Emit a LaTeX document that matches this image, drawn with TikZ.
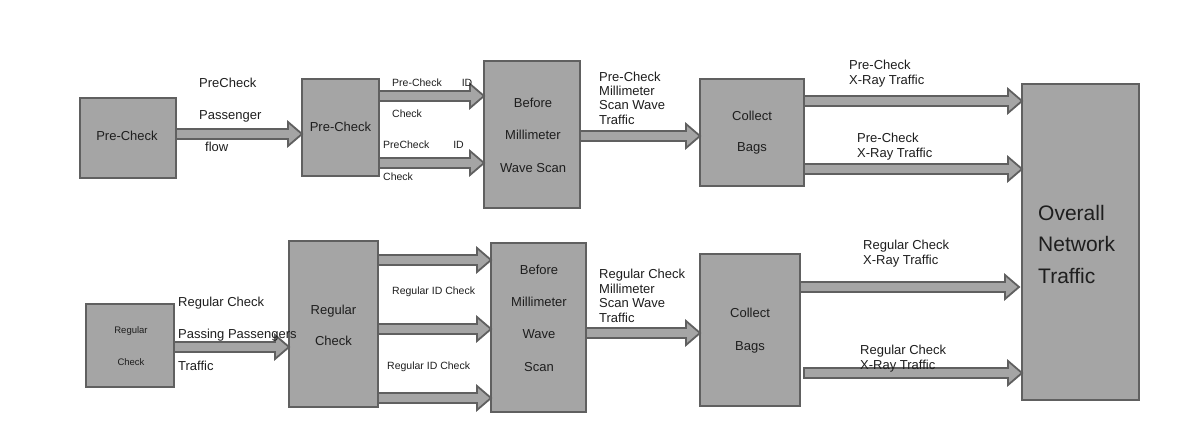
\documentclass[tikz,border=0pt]{standalone}
\usepackage{fontspec}
\setmainfont{Liberation Sans}
\usetikzlibrary{calc}
\definecolor{boxfill}{HTML}{A5A5A5}
\definecolor{boxline}{HTML}{606060}
\definecolor{ink}{HTML}{1E1E1E}
\tikzset{
  box/.style={draw=boxline, fill=boxfill, line width=2pt, inner sep=0pt, outer sep=0pt},
  barrow/.style={draw=boxline, fill=boxfill, line width=1.8pt, line join=miter},
  txt/.style={inner sep=0pt, text=ink, align=center},
  lbl/.style={inner sep=0pt, text=ink, align=left, anchor=west},
}
\newcommand\blockarrow[3][]{\draw[barrow,#1] let \p1=#2, \p2=#3 in
  (\x1,\y1+5pt) -- (\x2-14pt,\y1+5pt) -- (\x2-14pt,\y1+12pt) -- (\x2,\y1) --
  (\x2-14pt,\y1-12pt) -- (\x2-14pt,\y1-5pt) -- (\x1,\y1-5pt) -- cycle;}
\begin{document}
\begin{tikzpicture}[x=1pt,y=-1pt]
\fill[white] (0,0) rectangle (1195,443);
\useasboundingbox (0,0) rectangle (1195,443);

% boxes
\node[box, minimum width=96, minimum height=80] (pc1) at (128,138) {};
\node[box, minimum width=77, minimum height=97] (pc2) at (340.5,127.5) {};
\node[box, minimum width=96, minimum height=147] (bm1) at (532,134.5) {};
\node[box, minimum width=104, minimum height=107] (cb1) at (752,132.5) {};
\node[box, minimum width=117, minimum height=316] (ov) at (1080.5,242) {};
\node[box, minimum width=88, minimum height=83] (rc1) at (130,345.5) {};
\node[box, minimum width=89, minimum height=166] (rc2) at (333.5,324) {};
\node[box, minimum width=95, minimum height=169] (bm2) at (538.5,327.5) {};
\node[box, minimum width=100, minimum height=152] (cb2) at (750,330) {};

% box texts
\node[txt, font=\fontsize{13}{15}\selectfont] (pc1t) at (127,136) {Pre-Check};
\node[txt, font=\fontsize{13}{15}\selectfont] (pc2t) at (340.5,127) {Pre-Check};
\node[txt, font=\fontsize{13}{32.5}\selectfont] (bm1t) at (533,135) {Before\\Millimeter\\Wave Scan};
\node[txt, font=\fontsize{13}{31}\selectfont] (cb1t) at (752,133) {Collect\\Bags};
\node[txt, align=left, anchor=west, font=\fontsize{21}{31.5}\selectfont] (ovt) at (1038,244) {Overall\\Network\\Traffic};
\node[txt, font=\fontsize{9.5}{32}\selectfont] (rc1t) at (131,346) {Regular\\Check};
\node[txt, font=\fontsize{13}{31}\selectfont] (rc2t) at (333.5,325) {Regular\\Check};
\node[txt, font=\fontsize{13}{32.3}\selectfont] (bm2t) at (539,318) {Before\\Millimeter\\Wave\\Scan};
\node[txt, font=\fontsize{13}{33}\selectfont] (cb2t) at (750,331) {Collect\\Bags};

% block arrows
\blockarrow{(pc1.east |- 0,134)}{(pc2.west |- 0,134)}
\blockarrow{(pc2.east |- 0,96)}{(bm1.west |- 0,96)}
\blockarrow{(pc2.east |- 0,163)}{(bm1.west |- 0,163)}
\blockarrow{(bm1.east |- 0,136)}{(cb1.west |- 0,136)}
\blockarrow{(cb1.east |- 0,101)}{(ov.west |- 0,101)}
\blockarrow{(cb1.east |- 0,169)}{(ov.west |- 0,169)}
\blockarrow{(rc1.east |- 0,347)}{(rc2.west |- 0,347)}
\blockarrow{(rc2.east |- 0,260)}{(bm2.west |- 0,260)}
\blockarrow{(rc2.east |- 0,329)}{(bm2.west |- 0,329)}
\blockarrow{(rc2.east |- 0,398)}{(bm2.west |- 0,398)}
\blockarrow{(bm2.east |- 0,333)}{(cb2.west |- 0,333)}
\blockarrow{(cb2.east |- 0,287)}{($(ov.west |- 0,287)+(-3,0)$)}
\blockarrow{($(cb2.east |- 0,373)+(4,0)$)}{(ov.west |- 0,373)}

% labels
\node[lbl, font=\fontsize{13}{32}\selectfont] (l1) at (199,115) {PreCheck\\Passenger\\\hspace*{6pt}flow};
\node[lbl, font=\fontsize{10.5}{31}\selectfont] (l2) at (392,98.5) {Pre-Check\hspace{20pt}ID\\Check};
\node[lbl, font=\fontsize{10.5}{32}\selectfont] (l3) at (383,161) {PreCheck\hspace{24pt}ID\\Check};
\node[lbl, font=\fontsize{13}{14.4}\selectfont] (l4) at (599,98) {Pre-Check\\Millimeter\\Scan Wave\\Traffic};
\node[lbl, font=\fontsize{13}{15}\selectfont] (l5) at (849,74) {Pre-Check\\X-Ray Traffic};
\node[lbl, font=\fontsize{13}{15}\selectfont] (l6) at (857,147) {Pre-Check\\X-Ray Traffic};
\node[lbl, font=\fontsize{13}{32}\selectfont] (l7) at (178,334) {Regular Check\\Passing Passengers\\Traffic};
\node[lbl, font=\fontsize{10.5}{13}\selectfont] (l8) at (392,292) {Regular ID Check};
\node[lbl, font=\fontsize{10.5}{13}\selectfont] (l9) at (387,367) {Regular ID Check};
\node[lbl, font=\fontsize{13}{14.7}\selectfont] (l10) at (599,296) {Regular Check\\Millimeter\\Scan Wave\\Traffic};
\node[lbl, font=\fontsize{13}{15}\selectfont] (l11) at (863,254) {Regular Check\\X-Ray Traffic};
\node[lbl, font=\fontsize{13}{15}\selectfont] (l12) at (860,358.5) {Regular Check\\X-Ray Traffic};
\end{tikzpicture}
\end{document}
